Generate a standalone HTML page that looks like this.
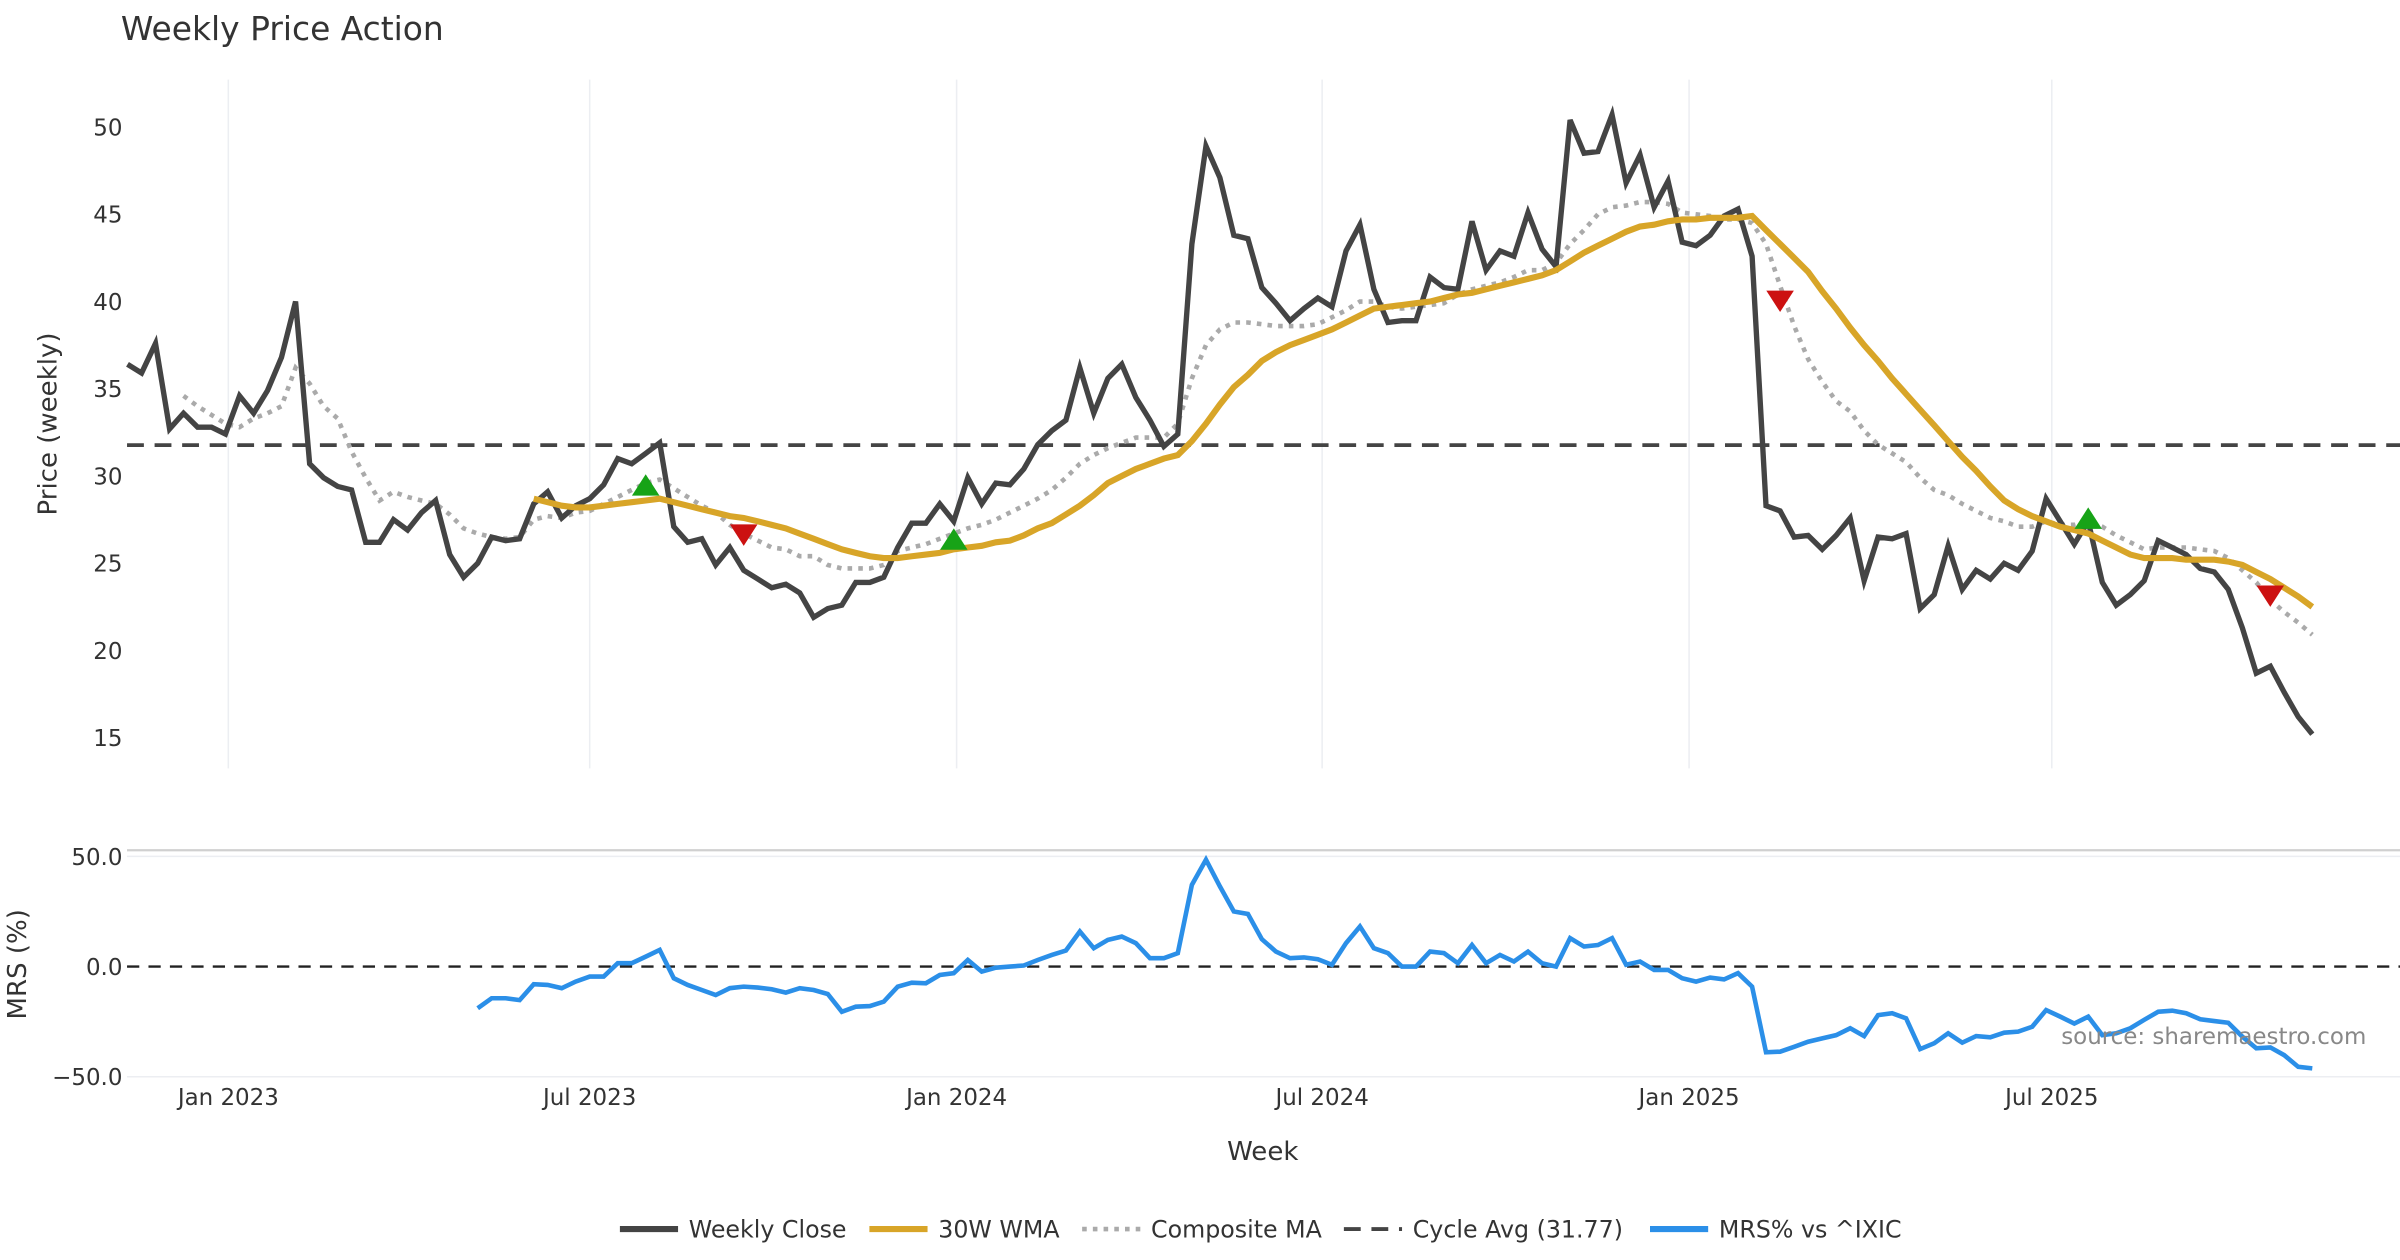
<!DOCTYPE html>
<html><head><meta charset="utf-8"><style>
html,body{margin:0;padding:0;background:#fff;}
svg{display:block;font-family:"DejaVu Sans","Liberation Sans",sans-serif;}
</style></head><body>
<svg id="chart" xmlns="http://www.w3.org/2000/svg" width="2400" height="1260" viewBox="0 0 1568 823.2">
<rect x="0" y="0" width="1568" height="823.2" fill="#fff"/>
<text x="79" y="26" font-size="21.5" fill="#333">Weekly Price Action</text>
<g id="grid"></g><g id="axes"></g><g id="series"></g><g id="markers"></g>
<text transform="translate(37,277) rotate(-90)" text-anchor="middle" font-size="17" fill="#333">Price (weekly)</text>
<text transform="translate(17,630) rotate(-90)" text-anchor="middle" font-size="17" fill="#333">MRS (%)</text>
<text x="825" y="758" text-anchor="middle" font-size="17" fill="#333">Week</text>
<text x="1546" y="682" text-anchor="end" font-size="15" fill="#888">source: sharemaestro.com</text>
<g id="legend"></g>
</svg>
<script>
const closeVals=[36.4,35.9,37.6,32.7,33.6,32.8,32.8,32.4,34.6,33.6,34.9,36.8,40.0,30.7,29.9,29.4,29.2,26.2,26.2,27.5,26.9,27.9,28.6,25.5,24.2,25.0,26.5,26.3,26.4,28.4,29.1,27.6,28.3,28.7,29.5,31.0,30.7,31.3,31.9,27.1,26.2,26.4,24.9,25.9,24.6,24.1,23.6,23.8,23.3,21.9,22.4,22.6,23.9,23.9,24.2,25.9,27.3,27.3,28.4,27.4,29.9,28.4,29.6,29.5,30.4,31.8,32.6,33.2,36.2,33.6,35.6,36.4,34.5,33.2,31.7,32.4,43.3,48.9,47.1,43.8,43.6,40.8,39.9,38.9,39.6,40.2,39.7,42.9,44.4,40.7,38.8,38.9,38.9,41.4,40.8,40.7,44.6,41.8,42.9,42.6,45.1,43.0,42.0,50.4,48.5,48.6,50.7,46.8,48.4,45.4,46.9,43.4,43.2,43.8,44.9,45.3,42.6,28.3,28.0,26.5,26.6,25.8,26.6,27.6,24.0,26.5,26.4,26.7,22.4,23.2,26.0,23.5,24.6,24.1,25.0,24.6,25.7,28.7,27.4,26.1,27.4,23.9,22.6,23.2,24.0,26.3,25.9,25.5,24.7,24.5,23.5,21.3,18.7,19.1,17.6,16.2,15.2];
const wmaStart=29;
const wmaVals=[28.7,28.5,28.3,28.2,28.2,28.3,28.4,28.5,28.6,28.7,28.5,28.3,28.1,27.9,27.7,27.6,27.4,27.2,27.0,26.7,26.4,26.1,25.8,25.6,25.4,25.3,25.3,25.4,25.5,25.6,25.8,25.9,26.0,26.2,26.3,26.6,27.0,27.3,27.8,28.3,28.9,29.6,30.0,30.4,30.7,31.0,31.2,32.0,33.0,34.1,35.1,35.8,36.6,37.1,37.5,37.8,38.1,38.4,38.8,39.2,39.6,39.7,39.8,39.9,40.0,40.2,40.4,40.5,40.7,40.9,41.1,41.3,41.5,41.8,42.3,42.8,43.2,43.6,44.0,44.3,44.4,44.6,44.7,44.7,44.8,44.8,44.8,44.9,44.1,43.3,42.5,41.7,40.6,39.6,38.5,37.5,36.6,35.6,34.7,33.8,32.9,32.0,31.1,30.3,29.4,28.6,28.1,27.7,27.4,27.1,26.9,26.7,26.3,25.9,25.5,25.3,25.3,25.3,25.2,25.2,25.2,25.1,24.9,24.5,24.1,23.6,23.1,22.5];
const compStart=4;
const compVals=[34.6,34.0,33.5,33.0,32.8,33.3,33.6,34.0,36.2,35.3,34.0,33.3,31.4,29.9,28.6,29.1,28.8,28.6,28.4,27.8,27.0,26.7,26.5,26.4,26.5,27.5,27.7,27.6,27.9,28.0,28.4,28.8,29.2,29.6,29.8,29.3,28.8,28.3,27.9,27.2,26.7,26.3,25.9,25.8,25.4,25.4,24.9,24.7,24.7,24.7,24.9,25.7,25.9,26.1,26.4,26.7,27.0,27.2,27.5,27.9,28.3,28.7,29.2,29.9,30.7,31.2,31.6,31.9,32.2,32.2,32.2,33.0,35.6,37.5,38.4,38.8,38.8,38.7,38.6,38.6,38.6,38.7,39.1,39.5,40.0,40.0,39.7,39.6,39.7,39.8,39.9,40.4,40.7,40.9,41.1,41.4,41.8,41.8,42.2,43.3,44.1,45.0,45.4,45.5,45.7,45.7,45.6,45.1,45.0,44.9,44.7,44.7,44.5,43.3,40.9,38.6,36.7,35.4,34.3,33.7,32.6,31.8,31.3,30.8,29.9,29.2,28.9,28.4,28.0,27.6,27.4,27.1,27.1,27.4,27.2,27.2,27.4,27.1,26.6,26.2,25.8,25.9,25.9,25.9,25.8,25.7,25.3,24.6,23.9,22.9,22.2,21.6,20.9];
const mrsStart=25;
const mrsVals=[-18.9,-14.4,-14.4,-15.2,-8.0,-8.3,-9.8,-6.8,-4.5,-4.5,1.5,1.5,4.5,7.6,-5.3,-8.3,-10.6,-12.9,-9.8,-9.1,-9.5,-10.3,-11.8,-9.8,-10.6,-12.4,-20.5,-18.2,-17.9,-15.9,-9.1,-7.3,-7.6,-3.8,-3.0,3.0,-2.3,-0.5,0,0.5,3.0,5.3,7.3,15.9,8.3,12.1,13.6,10.6,3.8,3.8,6.1,37.1,48.5,36.4,25.0,23.9,12.4,6.8,3.8,4.2,3.3,0.8,10.6,18.2,8.3,6.1,0,0,6.8,6.1,1.5,9.8,1.5,5.3,2.3,6.8,1.5,0,12.9,9.1,9.8,12.9,0.8,2.3,-1.5,-1.5,-5.3,-6.8,-5.0,-5.8,-3.0,-9.1,-38.9,-38.6,-36.4,-34.1,-32.6,-31.1,-28.0,-31.5,-22.0,-21.2,-23.5,-37.4,-34.8,-30.3,-34.5,-31.5,-32.1,-30.0,-29.5,-27.3,-19.7,-22.7,-25.8,-22.7,-31.1,-30.3,-28.0,-24.2,-20.5,-20.0,-21.2,-23.9,-24.7,-25.5,-31.8,-37.1,-36.7,-40.2,-45.5,-46.2];
const buyIdx=[37,59,140];
const buyVals=[29.4,26.3,27.5];
const sellIdx=[44,118,153];
const sellVals=[26.7,40.1,23.2];
const cycleAvg=31.77;
const priceTicks=[15,20,25,30,35,40,45,50];
const mrsTicks=[50,0,-50];
const mrsTickLabels=["50.0","0.0","\u221250.0"];
const xTickWeeks=[7.2,33.0,59.2,85.3,111.5,137.4];
const xTickLabels=["Jan 2023","Jul 2023","Jan 2024","Jul 2024","Jan 2025","Jul 2025"];

const NS="http://www.w3.org/2000/svg";
const X=i=>83.3+9.15*i;
const Y=v=>83+(50-v)*11.4;
const YM=v=>631.5-v*1.44;
function mk(parent,tag,attrs,text){const e=document.createElementNS(NS,tag);for(const k in attrs)e.setAttribute(k,attrs[k]);if(text!==undefined)e.textContent=text;document.getElementById(parent).appendChild(e);return e;}

xTickWeeks.forEach((w,k)=>{
  const g=mk('grid','line',{x1:X(w),x2:X(w),y1:52,y2:502,stroke:'#eceef2','stroke-width':1});
  
  
  const t=mk('axes','text',{x:X(w),y:722,'text-anchor':'middle','font-size':15,fill:'#333'},xTickLabels[k]);
  
  
});
priceTicks.forEach(v=>{
  const t=mk('axes','text',{x:80,y:Y(v)+5.5,'text-anchor':'end','font-size':15,fill:'#333'},String(v));
  
  
});
let sep=mk('grid','line',{x1:83,x2:1568,y1:555.5,y2:555.5,stroke:'#d0d0d0','stroke-width':1.5});


mrsTicks.forEach((v,k)=>{
  if(v!==0){const g=mk('grid','line',{x1:83,x2:1568,y1:YM(v),y2:YM(v),stroke:'#eceef2','stroke-width':1});
  
  }
  const t=mk('axes','text',{x:80,y:YM(v)+5.5,'text-anchor':'end','font-size':15,fill:'#333'},mrsTickLabels[k]);
  
  
});
let z=mk('series','line',{x1:83,x2:1568,y1:YM(0),y2:YM(0),stroke:'#222','stroke-width':1.5,'stroke-dasharray':'8,6'});


let ca=mk('series','line',{x1:83,x2:1568,y1:Y(cycleAvg),y2:Y(cycleAvg),stroke:'#444','stroke-width':2.5,'stroke-dasharray':'11,7'});



function path(vals,start,yf){return vals.map((v,k)=>(k?'L':'M')+X(start+k).toFixed(1)+','+yf(v).toFixed(1)).join('');}
let p1=mk('series','path',{d:path(compVals,compStart,Y),fill:'none',stroke:'#aaaaaa','stroke-width':3,'stroke-dasharray':'3,4'});


let p2=mk('series','path',{d:path(closeVals,0,Y),fill:'none',stroke:'#444','stroke-width':3.5,'stroke-linejoin':'miter'});


let p3=mk('series','path',{d:path(wmaVals,wmaStart,Y),fill:'none',stroke:'#d8a528','stroke-width':4});


let p4=mk('series','path',{d:path(mrsVals,mrsStart,YM),fill:'none',stroke:'#2b8fe8','stroke-width':3});



buyIdx.forEach((i,k)=>{const x=X(i),y=Y(buyVals[k]);
  const m=mk('markers','path',{d:`M${x-9},${y+6}L${x+9},${y+6}L${x},${y-8}Z`,fill:'#17a317'});
  
  });
sellIdx.forEach((i,k)=>{const x=X(i),y=Y(sellVals[k]);
  const m=mk('markers','path',{d:`M${x-9},${y-6}L${x+9},${y-6}L${x},${y+8}Z`,fill:'#cc1111'});
  
  });

const legendItems=[
 {x:405,label:'Weekly Close',stroke:'#444',dash:'',w:4},
 {x:568,label:'30W WMA',stroke:'#d8a528',dash:'',w:4},
 {x:707,label:'Composite MA',stroke:'#aaaaaa',dash:'3,4',w:3},
 {x:878,label:'Cycle Avg (31.77)',stroke:'#444',dash:'11,7',w:2.5},
 {x:1078,label:'MRS% vs ^IXIC',stroke:'#2b8fe8',dash:'',w:4}];
legendItems.forEach(it=>{
  const l=mk('legend','line',{x1:it.x,x2:it.x+38,y1:803,y2:803,stroke:it.stroke,'stroke-width':it.w,'stroke-dasharray':it.dash});
  
  
  const t=mk('legend','text',{x:it.x+45,y:808.5,'font-size':15.5,fill:'#333'},it.label);
  
  
});
</script>
</body></html>
